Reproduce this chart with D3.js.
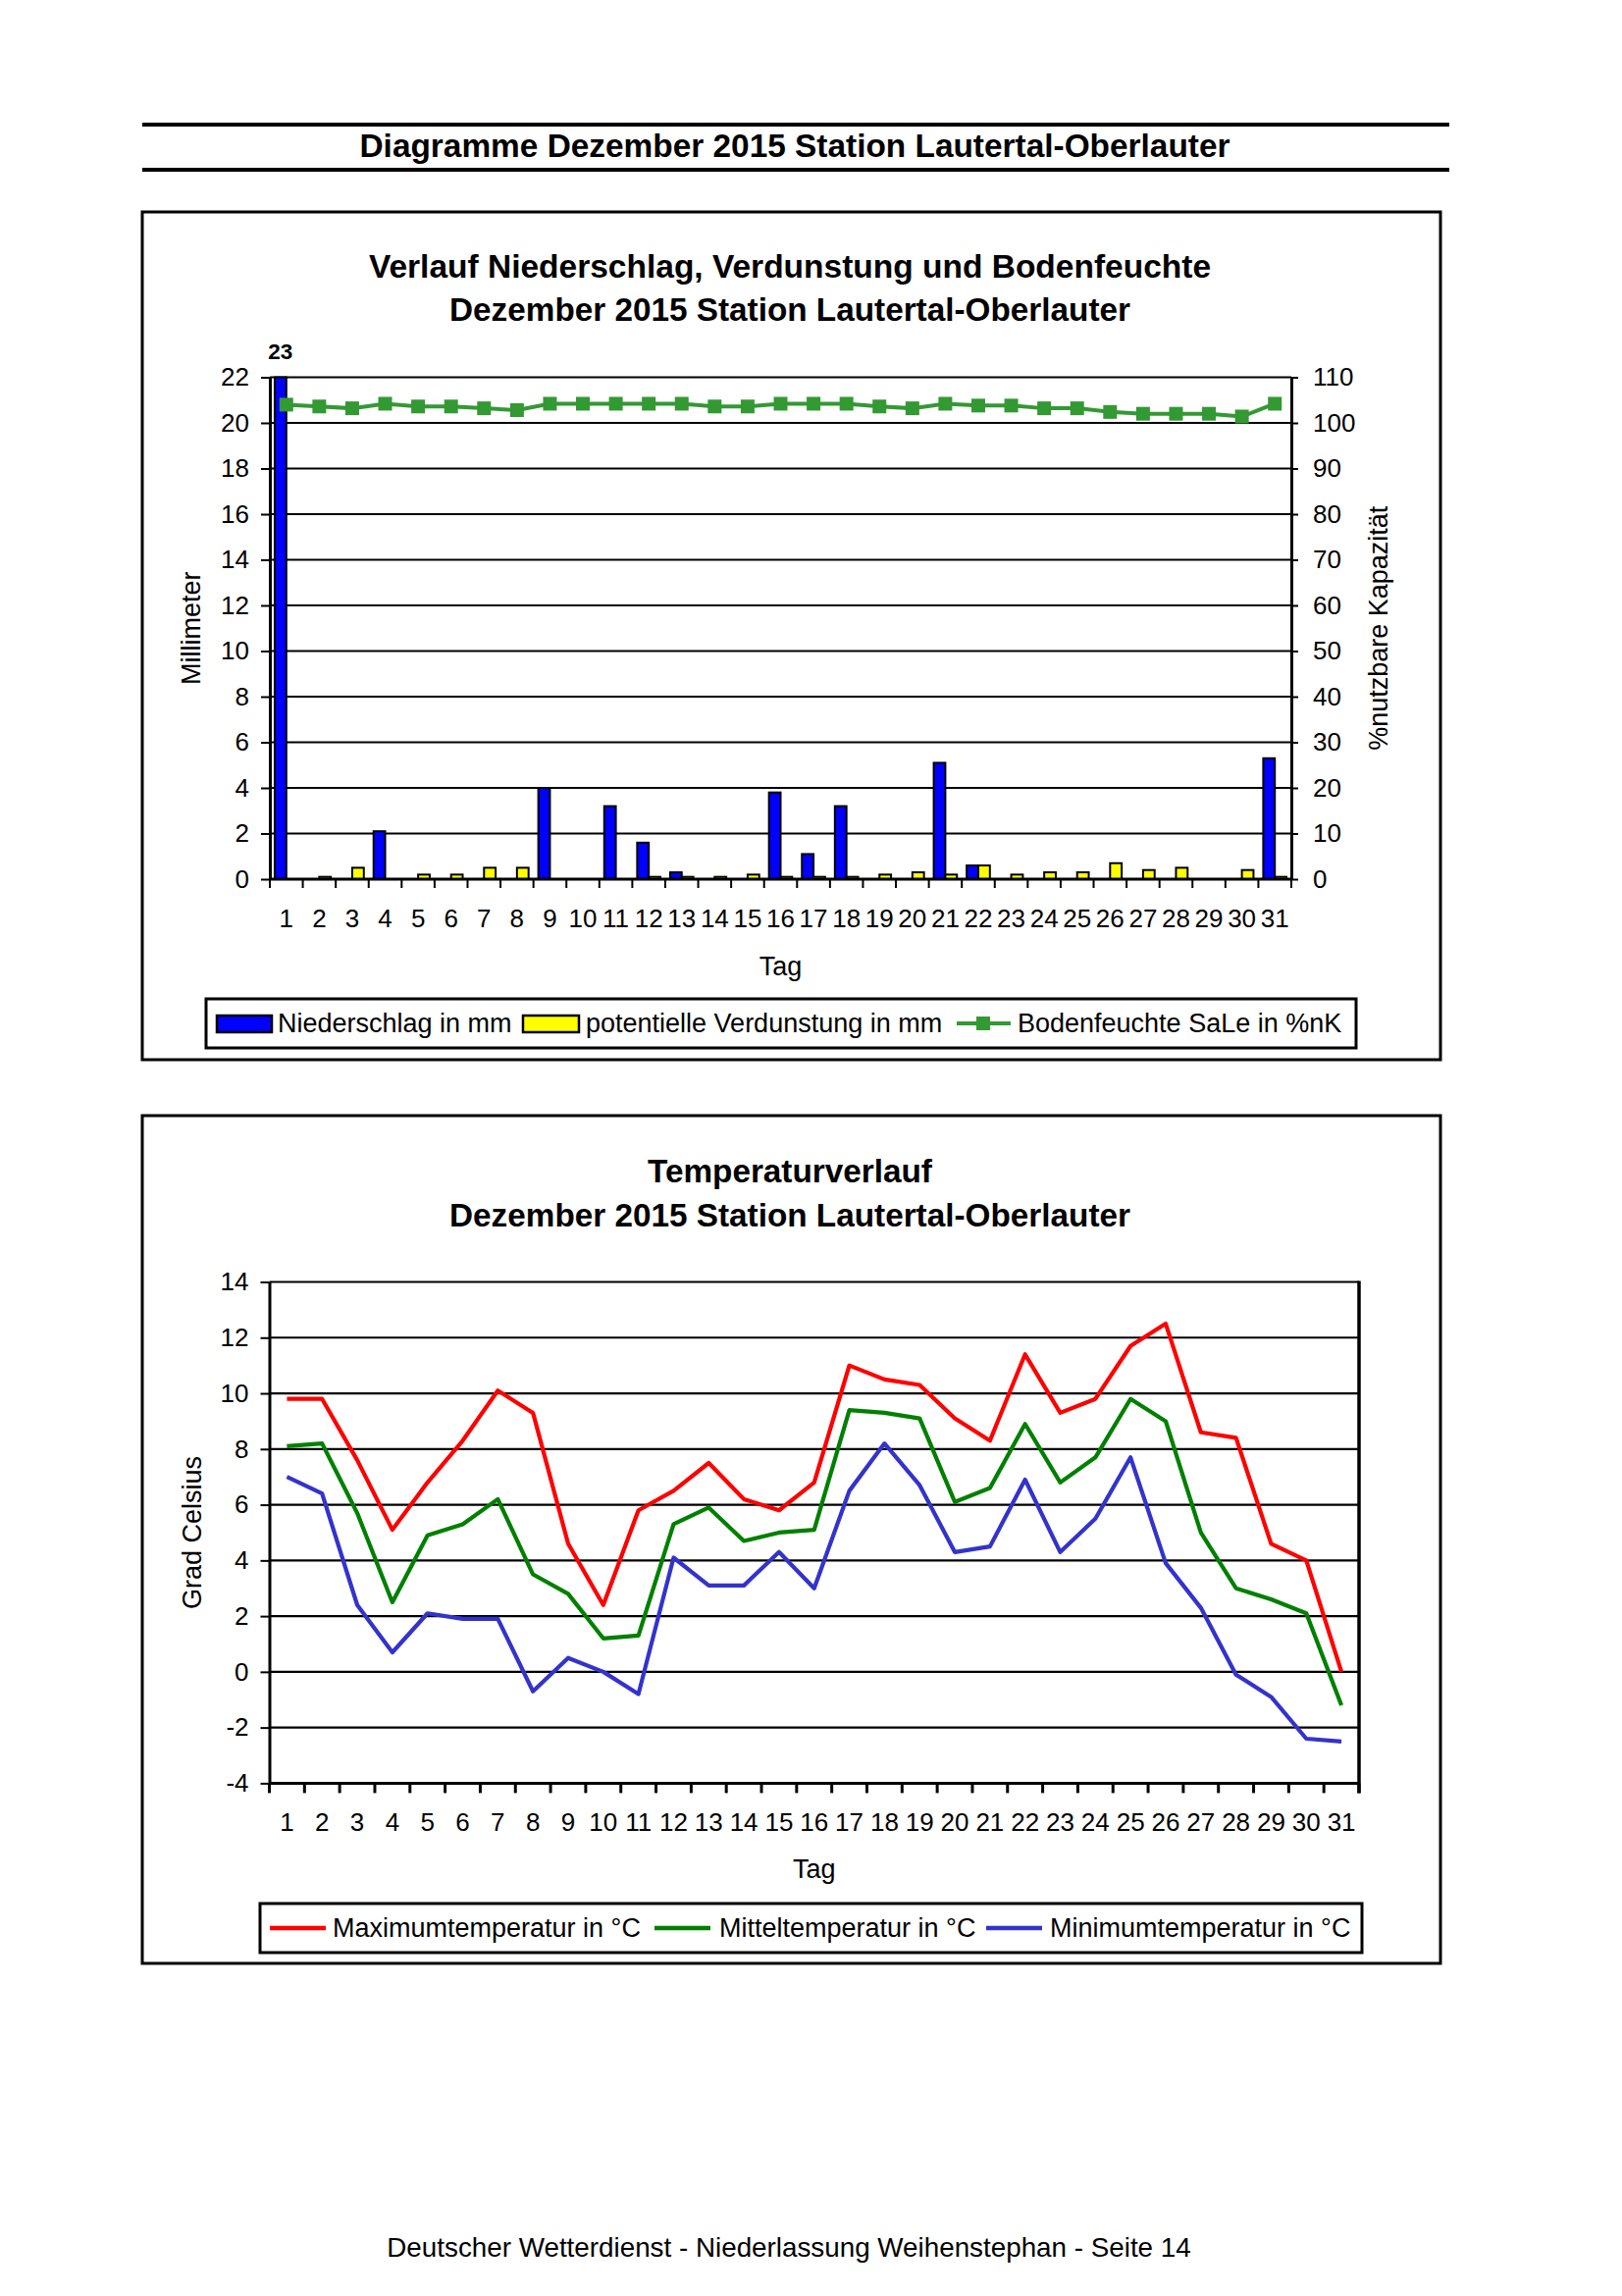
<!DOCTYPE html>
<html><head><meta charset="utf-8">
<script src="https://cdn.jsdelivr.net/npm/d3@7"></script>
<style>
html,body{margin:0;padding:0;background:#fff;}
svg text{font-family:"Liberation Sans",Arial,Helvetica,sans-serif;fill:#000;}
</style></head><body>
<svg id="page" width="1653" height="2340"></svg>
<script>
// ---------- DATA ----------
const days = ["1","2","3","4","5","6","7","8","9","10","11","12","13","14","15","16","17","18","19","20","21","22","23","24","25","26","27","28","29","30","31"];
const precipitation = [23,0,0,2.1,0,0,0,0,4.0,0,3.2,1.6,0.3,0,0,3.8,1.1,3.2,0,0,5.1,0.6,0,0,0,0,0,0,0,0,5.3];
const evaporation = [0,0.1,0.5,0,0.2,0.2,0.5,0.5,0,0,0,0.1,0.1,0.1,0.2,0.1,0.1,0.1,0.2,0.3,0.2,0.6,0.2,0.3,0.3,0.7,0.4,0.5,0,0.4,0.1];
const soilMoisture = [104.0,103.6,103.2,104.2,103.6,103.6,103.2,102.8,104.2,104.2,104.2,104.2,104.2,103.6,103.6,104.2,104.2,104.2,103.6,103.2,104.2,103.8,103.8,103.2,103.2,102.4,102.0,102.0,102.0,101.4,104.2];
const tempMax = [9.8,9.8,7.6,5.1,6.8,8.3,10.1,9.3,4.6,2.4,5.8,6.5,7.5,6.2,5.8,6.8,11.0,10.5,10.3,9.1,8.3,11.4,9.3,9.8,11.7,12.5,8.6,8.4,4.6,4.0,0.0];
const tempMean = [8.1,8.2,5.7,2.5,4.9,5.3,6.2,3.5,2.8,1.2,1.3,5.3,5.9,4.7,5.0,5.1,9.4,9.3,9.1,6.1,6.6,8.9,6.8,7.7,9.8,9.0,5.0,3.0,2.6,2.1,-1.2];
const tempMin = [7.0,6.4,2.4,0.7,2.1,1.9,1.9,-0.7,0.5,0.0,-0.8,4.1,3.1,3.1,4.3,3.0,6.5,8.2,6.7,4.3,4.5,6.9,4.3,5.5,7.7,3.9,2.3,-0.1,-0.9,-2.4,-2.5];
const mmTicks = [0,2,4,6,8,10,12,14,16,18,20,22];
const pctTicks = [0,10,20,30,40,50,60,70,80,90,100,110];
const tempTicks = [-4,-2,0,2,4,6,8,10,12,14];

// ---------- PAGE ----------
const FONT = '"Liberation Sans",Arial,Helvetica,sans-serif';
const plain = d => String(d);
const svg = d3.select("#page");
svg.append("rect").attr("width",1653).attr("height",2340).attr("fill","#fff");

// header
svg.append("line").attr("x1",145).attr("x2",1477).attr("y1",127).attr("y2",127).attr("stroke","#000").attr("stroke-width",4);
svg.append("line").attr("x1",145).attr("x2",1477).attr("y1",173).attr("y2",173).attr("stroke","#000").attr("stroke-width",4);
svg.append("text").attr("x",810).attr("y",160).attr("text-anchor","middle").attr("font-size",33.4).attr("font-weight","bold")
  .text("Diagramme Dezember 2015 Station Lautertal-Oberlauter");

// footer
svg.append("text").attr("x",804).attr("y",2300).attr("text-anchor","middle").attr("font-size",27.8)
  .text("Deutscher Wetterdienst - Niederlassung Weihenstephan - Seite 14");

function frame(y0,y1){
  svg.append("rect").attr("x",145).attr("y",y0).attr("width",1468-145).attr("height",y1-y0)
    .attr("fill","#fff").attr("stroke","#000").attr("stroke-width",3);
}
function styleAxis(g, fs){
  g.select(".domain").attr("stroke","#000").attr("stroke-width",3);
  g.selectAll(".tick line").attr("stroke","#000").attr("stroke-width",2);
  g.selectAll(".tick text").attr("font-size",fs).attr("font-family",FONT).attr("fill","#000");
}

// ================= CHART 1 =================
frame(216,1080);
svg.append("text").attr("x",805).attr("y",283).attr("text-anchor","middle").attr("font-size",33.5).attr("font-weight","bold")
  .text("Verlauf Niederschlag, Verdunstung und Bodenfeuchte");
svg.append("text").attr("x",805).attr("y",327).attr("text-anchor","middle").attr("font-size",33.3).attr("font-weight","bold")
  .text("Dezember 2015 Station Lautertal-Oberlauter");

const P1 = {left:275, right:1316, top:384.5, bottom:896};
const x1 = d3.scaleBand().domain(days).range([P1.left,P1.right]).padding(0);
const xs = d3.scaleBand().domain(["n","v"]).range([0,x1.bandwidth()]).paddingInner(0).paddingOuter(0.42);
const yMm = d3.scaleLinear().domain([0,22]).range([P1.bottom,P1.top]);
const yPct = d3.scaleLinear().domain([0,110]).range([P1.bottom,P1.top]);

const c1 = svg.append("g");
// gridlines
c1.selectAll("line.grid").data(mmTicks.filter(t=>t>0)).join("line")
  .attr("x1",P1.left).attr("x2",P1.right).attr("y1",d=>yMm(d)).attr("y2",d=>yMm(d))
  .attr("stroke","#000").attr("stroke-width",2.2);

// bars
const rows1 = days.map((d,i)=>({d, n:precipitation[i], v:evaporation[i]}));
const maxMm = yMm.domain()[1];
c1.selectAll("rect.n").data(rows1.filter(r=>r.n>0)).join("rect")
  .attr("x",r=>x1(r.d)+xs("n")).attr("width",xs.bandwidth())
  .attr("y",r=>yMm(Math.min(r.n,maxMm))).attr("height",r=>yMm(0)-yMm(Math.min(r.n,maxMm)))
  .attr("fill","#0000ff").attr("stroke","#000").attr("stroke-width",2);
c1.selectAll("rect.v").data(rows1.filter(r=>r.v>0)).join("rect")
  .attr("x",r=>x1(r.d)+xs("v")).attr("width",xs.bandwidth())
  .attr("y",r=>yMm(Math.min(r.v,maxMm))).attr("height",r=>yMm(0)-yMm(Math.min(r.v,maxMm)))
  .attr("fill","#ffff00").attr("stroke","#000").attr("stroke-width",2);
// overflow labels
c1.selectAll("text.over").data(rows1.filter(r=>r.n>maxMm)).join("text")
  .attr("x",r=>x1(r.d)+xs("n")+xs.bandwidth()/2).attr("y",yMm(maxMm)-19)
  .attr("text-anchor","middle").attr("font-size",22.5).attr("font-weight","bold").text(r=>r.n);

// left axis
const gL1 = c1.append("g").attr("transform",`translate(${P1.left},0)`)
  .call(d3.axisLeft(yMm).tickValues(mmTicks).tickFormat(plain).tickSize(9).tickSizeOuter(0).tickPadding(12));
styleAxis(gL1,26);
// right axis
const gR1 = c1.append("g").attr("transform",`translate(${P1.right},0)`)
  .call(d3.axisRight(yPct).tickValues(pctTicks).tickFormat(plain).tickSize(7).tickSizeOuter(0).tickPadding(15));
styleAxis(gR1,26);
// bottom axis
c1.append("line").attr("x1",P1.left).attr("x2",P1.right).attr("y1",P1.bottom).attr("y2",P1.bottom).attr("stroke","#000").attr("stroke-width",3);
c1.selectAll("line.xt").data(d3.range(days.length+1)).join("line")
  .attr("x1",i=>P1.left+i*x1.step()).attr("x2",i=>P1.left+i*x1.step())
  .attr("y1",P1.bottom).attr("y2",P1.bottom+9).attr("stroke","#000").attr("stroke-width",2);
c1.selectAll("text.xl").data(days).join("text")
  .attr("x",d=>x1(d)+x1.bandwidth()/2).attr("y",P1.bottom+49).attr("text-anchor","middle")
  .attr("font-size",26).text(d=>d);

// soil moisture line
const lineSoil = d3.line().x((v,i)=>x1(days[i])+x1.bandwidth()/2).y(v=>yPct(v));
c1.append("path").datum(soilMoisture).attr("d",lineSoil).attr("fill","none").attr("stroke","#339933").attr("stroke-width",4);
c1.selectAll("rect.m").data(soilMoisture).join("rect")
  .attr("x",(v,i)=>x1(days[i])+x1.bandwidth()/2-7).attr("y",v=>yPct(v)-7)
  .attr("width",14).attr("height",14).attr("fill","#339933");

// axis titles
c1.append("text").attr("transform",`translate(204,${(P1.top+P1.bottom)/2}) rotate(-90)`).attr("text-anchor","middle").attr("font-size",27).text("Millimeter");
c1.append("text").attr("transform",`translate(1414,${(P1.top+P1.bottom)/2}) rotate(-90)`).attr("text-anchor","middle").attr("font-size",27).text("%nutzbare Kapazität");
c1.append("text").attr("x",(P1.left+P1.right)/2).attr("y",994).attr("text-anchor","middle").attr("font-size",27).text("Tag");

// legend 1
const L1 = c1.append("g");
L1.append("rect").attr("x",210).attr("y",1018).attr("width",1382-210).attr("height",50).attr("fill","#fff").attr("stroke","#000").attr("stroke-width",3);
L1.append("rect").attr("x",221).attr("y",1035).attr("width",56).attr("height",17).attr("fill","#0000ff").attr("stroke","#000").attr("stroke-width",2.5);
L1.append("text").attr("x",283).attr("y",1052).attr("font-size",27).text("Niederschlag in mm");
L1.append("rect").attr("x",533).attr("y",1035).attr("width",57).attr("height",17).attr("fill","#ffff00").attr("stroke","#000").attr("stroke-width",2.5);
L1.append("text").attr("x",597).attr("y",1052).attr("font-size",27).text("potentielle Verdunstung in mm");
L1.append("line").attr("x1",975).attr("x2",1030).attr("y1",1043).attr("y2",1043).attr("stroke","#339933").attr("stroke-width",4);
L1.append("rect").attr("x",995).attr("y",1036).attr("width",14).attr("height",14).attr("fill","#339933");
L1.append("text").attr("x",1037).attr("y",1052).attr("font-size",27).text("Bodenfeuchte SaLe in %nK");

// ================= CHART 2 =================
frame(1137,2001);
svg.append("text").attr("x",805).attr("y",1205).attr("text-anchor","middle").attr("font-size",33.3).attr("font-weight","bold")
  .text("Temperaturverlauf");
svg.append("text").attr("x",805).attr("y",1250).attr("text-anchor","middle").attr("font-size",33.3).attr("font-weight","bold")
  .text("Dezember 2015 Station Lautertal-Oberlauter");

const P2 = {left:274.5, right:1385, top:1306.5, bottom:1817.4};
const x2 = d3.scaleBand().domain(days).range([P2.left,P2.right]).padding(0);
const yT = d3.scaleLinear().domain([-4,14]).range([P2.bottom,P2.top]);
const c2 = svg.append("g");

c2.selectAll("line.grid").data(tempTicks.filter(t=>t>-4)).join("line")
  .attr("x1",P2.left).attr("x2",P2.right).attr("y1",d=>yT(d)).attr("y2",d=>yT(d))
  .attr("stroke","#000").attr("stroke-width",2.2);
// right border
c2.append("line").attr("x1",P2.right).attr("x2",P2.right).attr("y1",P2.top-1).attr("y2",P2.bottom+10).attr("stroke","#000").attr("stroke-width",3.5);

const gL2 = c2.append("g").attr("transform",`translate(${P2.left},0)`)
  .call(d3.axisLeft(yT).tickValues(tempTicks).tickFormat(plain).tickSize(9).tickSizeOuter(0).tickPadding(12));
styleAxis(gL2,26);
c2.append("line").attr("x1",P2.left).attr("x2",P2.right).attr("y1",P2.bottom).attr("y2",P2.bottom).attr("stroke","#000").attr("stroke-width",3);
c2.selectAll("line.xt").data(d3.range(days.length+1)).join("line")
  .attr("x1",i=>P2.left+i*x2.step()).attr("x2",i=>P2.left+i*x2.step())
  .attr("y1",P2.bottom).attr("y2",P2.bottom+10).attr("stroke","#000").attr("stroke-width",3);
c2.selectAll("text.xl").data(days).join("text")
  .attr("x",d=>x2(d)+x2.bandwidth()/2).attr("y",P2.bottom+49).attr("text-anchor","middle")
  .attr("font-size",26).text(d=>d);

const lineT = d3.line().x((v,i)=>x2(days[i])+x2.bandwidth()/2).y(v=>yT(v));
[[tempMax,"#ff0000"],[tempMean,"#008000"],[tempMin,"#3333cc"]].forEach(([s,c])=>{
  c2.append("path").datum(s).attr("d",lineT).attr("fill","none").attr("stroke",c).attr("stroke-width",4.2).attr("stroke-linejoin","round");
});

c2.append("text").attr("transform",`translate(205,${(P2.top+P2.bottom)/2}) rotate(-90)`).attr("text-anchor","middle").attr("font-size",27).text("Grad Celsius");
c2.append("text").attr("x",(P2.left+P2.right)/2).attr("y",1914).attr("text-anchor","middle").attr("font-size",27).text("Tag");

const L2 = c2.append("g");
L2.append("rect").attr("x",265).attr("y",1940).attr("width",1388-265).attr("height",50).attr("fill","#fff").attr("stroke","#000").attr("stroke-width",3);
const leg2 = [["Maximumtemperatur in °C","#ff0000",275,339],["Mitteltemperatur in °C","#008000",667,733],["Minimumtemperatur in °C","#3333cc",1005,1070]];
leg2.forEach(([t,c,lx,tx])=>{
  L2.append("line").attr("x1",lx).attr("x2",lx+57).attr("y1",1965).attr("y2",1965).attr("stroke",c).attr("stroke-width",4.5);
  L2.append("text").attr("x",tx).attr("y",1974).attr("font-size",27).text(t);
});
</script>
</body></html>
